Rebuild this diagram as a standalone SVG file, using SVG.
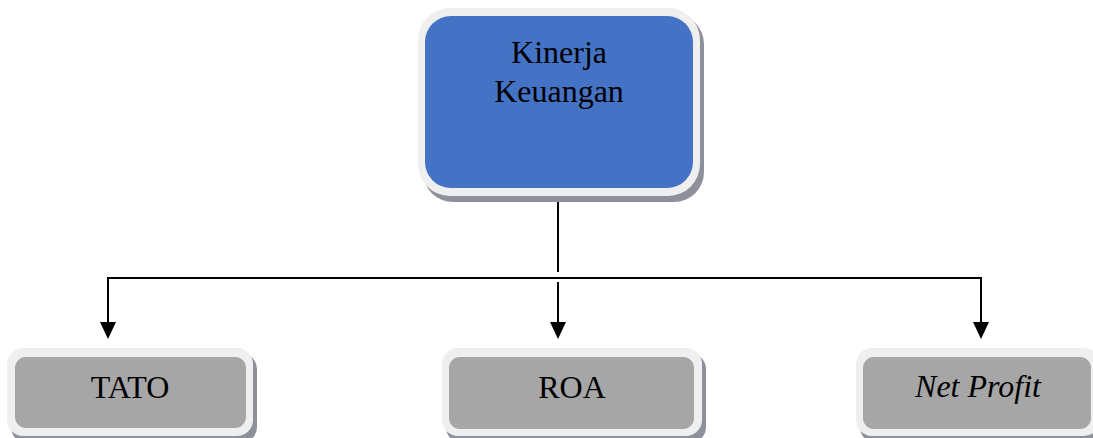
<svg xmlns="http://www.w3.org/2000/svg" width="1093" height="438" viewBox="0 0 1093 438">
<style>
.frame{fill:#efefef}
.shadow{fill:#8e919c}
.blue{fill:#4472c4}
.gray{fill:#a6a6a6}
.t{font-family:"Liberation Serif","Times New Roman",serif;font-size:32px;fill:#000;text-anchor:middle}
.c{stroke:#000;stroke-width:2;fill:none}
</style>
<g id="connectors">
<line class="c" x1="558" y1="195" x2="558" y2="272"/>
<line class="c" x1="107" y1="278" x2="982" y2="278"/>
<path class="c" d="M108,278 V322"/>
<path d="M100,322 L116,322 L108,339 Z" fill="#000"/>
<path class="c" d="M558,282 V322"/>
<path d="M550,322 L566,322 L558,339 Z" fill="#000"/>
<path class="c" d="M981,278 V322"/>
<path d="M973,322 L989,322 L981,339 Z" fill="#000"/>
</g>
<g id="node-kinerja">
<rect class="shadow" x="423" y="14" width="281" height="188" rx="30"/>
<rect class="frame" x="418" y="8" width="282" height="188" rx="32"/>
<rect class="blue" x="425" y="16" width="268" height="172" rx="26"/>
<text class="t" x="559" y="63">Kinerja</text>
<text class="t" x="559" y="102">Keuangan</text>
</g>
<g id="node-tato">
<rect class="shadow" x="11" y="353" width="246" height="90" rx="16"/>
<rect class="frame" x="7" y="348" width="246" height="88" rx="16"/>
<rect class="gray" x="15" y="357" width="231" height="71" rx="11"/>
<text class="t" x="130" y="398">TATO</text>
</g>
<g id="node-roa">
<rect class="shadow" x="446" y="353" width="260" height="90" rx="16"/>
<rect class="frame" x="442" y="348" width="260" height="88" rx="16"/>
<rect class="gray" x="449" y="357" width="245" height="72" rx="11"/>
<text class="t" x="572" y="398">ROA</text>
</g>
<g id="node-netprofit">
<rect class="shadow" x="860" y="353" width="240" height="90" rx="16"/>
<rect class="frame" x="856" y="348" width="244" height="88" rx="16"/>
<rect class="gray" x="863" y="357" width="228" height="72" rx="11"/>
<text class="t" x="978" y="397" font-style="italic">Net Profit</text>
</g>
</svg>
